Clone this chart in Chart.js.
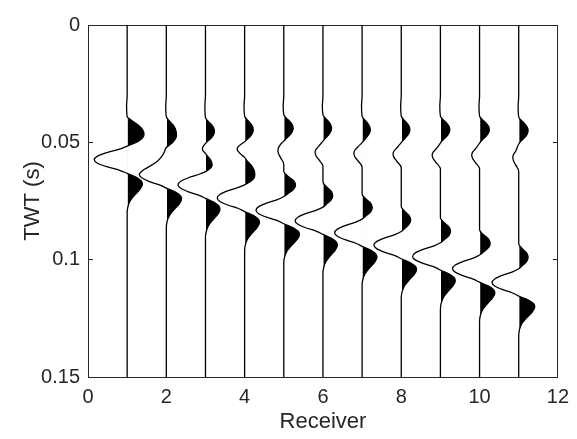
<!DOCTYPE html>
<html>
<head>
<meta charset="utf-8">
<script src="https://cdn.jsdelivr.net/npm/chart.js@4.4.1/dist/chart.umd.min.js"></script>
<style>
  html, body { margin: 0; padding: 0; background: #fff; }
  canvas { display: block; }
</style>
</head>
<body>
<canvas id="wiggle" width="577" height="439"></canvas>
<script>
// receiver positions and the wiggle of each trace as [TWT (s), amplitude] pairs
const receivers = [1, 2, 3, 4, 5, 6, 7, 8, 9, 10, 11];

const trace1 = [[0,0],[0.030,0],[0.0345,-0.015],[0.0390,0],[0.0405,0.10],[0.0425,0.27],[0.0445,0.39],[0.0467,0.43],[0.0482,0.39],[0.0497,0.27],[0.0508,0.12],[0.0516,0],
    [0.0529,-0.193],[0.0544,-0.521],[0.0559,-0.756],[0.0574,-0.84],[0.0589,-0.756],[0.0604,-0.521],[0.0619,-0.193],[0.0632,0],
    [0.0649,0.234],[0.0664,0.359],[0.0679,0.39],[0.0699,0.332],[0.0724,0.195],[0.0749,0.078],[0.0774,0.02],[0.0799,0],[0.15,0]];
const trace2 = [[0,0],[0.030,0],[0.0345,-0.015],[0.0390,0],[0.0410,0.08],[0.0430,0.19],[0.0450,0.245],[0.0471,0.26],[0.0486,0.23],[0.0501,0.16],[0.0513,0.07],[0.0522,0],
    [0.0545,-0.06],[0.0565,-0.14],[0.0585,-0.26],[0.0600,-0.40],[0.0615,-0.56],[0.0627,-0.65],[0.0637,-0.69],[0.0652,-0.62],[0.0667,-0.43],[0.0682,-0.16],[0.0695,0],
    [0.0712,0.234],[0.0727,0.359],[0.0742,0.39],[0.0762,0.332],[0.0787,0.195],[0.0812,0.078],[0.0837,0.02],[0.0862,0],[0.15,0]];
const trace3 = [[0,0],[0.030,0],[0.0345,-0.015],[0.0395,0],[0.0408,0.053],[0.0423,0.143],[0.0438,0.207],[0.0453,0.23],[0.0468,0.207],[0.0483,0.143],[0.0496,0.05],[0.0505,0],
    [0.0515,-0.05],[0.0527,-0.08],[0.0539,-0.05],[0.0548,0],[0.0560,0.06],[0.0575,0.13],[0.0595,0.17],[0.0608,0.14],[0.0618,0.07],[0.0625,0],
    [0.0636,-0.161],[0.0651,-0.434],[0.0666,-0.63],[0.0681,-0.70],[0.0696,-0.63],[0.0711,-0.434],[0.0726,-0.161],[0.0739,0],
    [0.0756,0.222],[0.0771,0.34],[0.0786,0.37],[0.0806,0.315],[0.0831,0.185],[0.0856,0.074],[0.0881,0.019],[0.0906,0],[0.15,0]];
const trace4 = [[0,0],[0.030,0],[0.0345,-0.015],[0.0388,0],[0.0401,0.051],[0.0416,0.136],[0.0431,0.198],[0.0446,0.22],[0.0461,0.198],[0.0476,0.136],[0.0489,0.05],[0.0498,0],
    [0.0508,-0.09],[0.0518,-0.165],[0.0529,-0.19],[0.0540,-0.16],[0.0553,-0.08],[0.0564,0],
    [0.0580,0.07],[0.0600,0.18],[0.0620,0.245],[0.0640,0.26],[0.0655,0.23],[0.0668,0.14],[0.0681,0],
    [0.0692,-0.161],[0.0707,-0.434],[0.0722,-0.63],[0.0737,-0.70],[0.0752,-0.63],[0.0767,-0.434],[0.0782,-0.161],[0.0795,0],
    [0.0812,0.228],[0.0827,0.35],[0.0842,0.38],[0.0862,0.323],[0.0887,0.19],[0.0912,0.076],[0.0937,0.019],[0.0962,0],[0.15,0]];
const trace5 = [[0,0],[0.030,0],[0.0345,-0.015],[0.0382,0],[0.0395,0.055],[0.0410,0.149],[0.0425,0.216],[0.0440,0.24],[0.0455,0.216],[0.0470,0.149],[0.0485,0.055],[0.0495,0],
    [0.0507,-0.075],[0.0523,-0.135],[0.0535,-0.15],[0.0548,-0.135],[0.0565,-0.083],[0.0593,0],
    [0.0624,0],[0.0644,0.105],[0.0664,0.255],[0.0682,0.30],[0.0699,0.255],[0.0717,0.12],[0.0731,0],
    [0.0744,-0.163],[0.0759,-0.44],[0.0774,-0.639],[0.0789,-0.71],[0.0804,-0.639],[0.0819,-0.44],[0.0834,-0.163],[0.0847,0],
    [0.0864,0.24],[0.0879,0.368],[0.0894,0.40],[0.0914,0.34],[0.0939,0.20],[0.0964,0.08],[0.0989,0.02],[0.1014,0],[0.15,0]];
const trace6 = [[0,0],[0.030,0],[0.0345,-0.015],[0.0382,0],[0.0395,0.051],[0.0410,0.136],[0.0425,0.198],[0.0440,0.22],[0.0455,0.198],[0.0470,0.136],[0.0485,0.051],[0.0495,0],
    [0.0515,-0.10],[0.0531,-0.18],[0.0543,-0.20],[0.0556,-0.18],[0.0573,-0.11],[0.0601,0],
    [0.0669,0],[0.0689,0.088],[0.0709,0.213],[0.0727,0.25],[0.0744,0.213],[0.0762,0.10],[0.0776,0],
    [0.0789,-0.163],[0.0804,-0.44],[0.0819,-0.639],[0.0834,-0.71],[0.0849,-0.639],[0.0864,-0.44],[0.0879,-0.163],[0.0892,0],
    [0.0909,0.222],[0.0924,0.34],[0.0939,0.37],[0.0959,0.315],[0.0984,0.185],[0.1009,0.074],[0.1034,0.019],[0.1059,0],[0.15,0]];
const trace7 = [[0,0],[0.030,0],[0.0345,-0.015],[0.0388,0],[0.0401,0.048],[0.0416,0.130],[0.0431,0.189],[0.0446,0.21],[0.0461,0.189],[0.0476,0.130],[0.0491,0.048],[0.0501,0],
    [0.0519,-0.105],[0.0535,-0.189],[0.0547,-0.21],[0.0560,-0.189],[0.0577,-0.116],[0.0605,0],
    [0.0720,0],[0.0740,0.091],[0.0760,0.221],[0.0778,0.26],[0.0795,0.221],[0.0813,0.104],[0.0827,0],
    [0.0840,-0.161],[0.0855,-0.434],[0.0870,-0.63],[0.0885,-0.70],[0.0900,-0.63],[0.0915,-0.434],[0.0930,-0.161],[0.0943,0],
    [0.0960,0.228],[0.0975,0.35],[0.0990,0.38],[0.1010,0.323],[0.1035,0.19],[0.1060,0.076],[0.1085,0.019],[0.1110,0],[0.15,0]];
const trace8 = [[0,0],[0.030,0],[0.0345,-0.015],[0.0388,0],[0.0401,0.051],[0.0416,0.136],[0.0431,0.198],[0.0446,0.22],[0.0461,0.198],[0.0476,0.136],[0.0491,0.051],[0.0501,0],
    [0.0522,-0.105],[0.0538,-0.189],[0.0550,-0.21],[0.0563,-0.189],[0.0580,-0.116],[0.0608,0],
    [0.0773,0],[0.0793,0.084],[0.0813,0.204],[0.0831,0.24],[0.0848,0.204],[0.0866,0.096],[0.0880,0],
    [0.0893,-0.161],[0.0908,-0.434],[0.0923,-0.63],[0.0938,-0.70],[0.0953,-0.63],[0.0968,-0.434],[0.0983,-0.161],[0.0996,0],
    [0.1013,0.234],[0.1028,0.359],[0.1043,0.39],[0.1063,0.332],[0.1088,0.195],[0.1113,0.078],[0.1138,0.02],[0.1163,0],[0.15,0]];
const trace9 = [[0,0],[0.030,0],[0.0345,-0.015],[0.0388,0],[0.0401,0.055],[0.0416,0.149],[0.0431,0.216],[0.0446,0.24],[0.0461,0.216],[0.0476,0.149],[0.0491,0.055],[0.0503,0],
    [0.0527,-0.105],[0.0543,-0.189],[0.0555,-0.21],[0.0568,-0.189],[0.0585,-0.116],[0.0613,0],
    [0.0821,0],[0.0841,0.091],[0.0861,0.221],[0.0879,0.26],[0.0896,0.221],[0.0914,0.104],[0.0928,0],
    [0.0941,-0.163],[0.0956,-0.44],[0.0971,-0.639],[0.0986,-0.71],[0.1001,-0.639],[0.1016,-0.44],[0.1031,-0.163],[0.1044,0],
    [0.1061,0.228],[0.1076,0.35],[0.1091,0.38],[0.1111,0.323],[0.1136,0.19],[0.1161,0.076],[0.1186,0.019],[0.1211,0],[0.15,0]];
const trace10 = [[0,0],[0.030,0],[0.0345,-0.015],[0.0388,0],[0.0401,0.058],[0.0416,0.155],[0.0431,0.225],[0.0446,0.25],[0.0461,0.225],[0.0476,0.155],[0.0491,0.058],[0.0503,0],
    [0.0527,-0.10],[0.0543,-0.18],[0.0555,-0.20],[0.0568,-0.18],[0.0585,-0.11],[0.0613,0],
    [0.0873,0],[0.0893,0.095],[0.0913,0.23],[0.0931,0.27],[0.0948,0.23],[0.0966,0.108],[0.0980,0],
    [0.0993,-0.159],[0.1008,-0.428],[0.1023,-0.621],[0.1038,-0.69],[0.1053,-0.621],[0.1068,-0.428],[0.1083,-0.159],[0.1096,0],
    [0.1113,0.234],[0.1128,0.359],[0.1143,0.39],[0.1163,0.332],[0.1188,0.195],[0.1213,0.078],[0.1238,0.02],[0.1263,0],[0.15,0]];
const trace11 = [[0,0],[0.030,0],[0.0345,-0.015],[0.0392,0],[0.0405,0.055],[0.0420,0.149],[0.0435,0.216],[0.0450,0.24],[0.0465,0.216],[0.0480,0.149],[0.0495,0.055],[0.0507,0],
    [0.0537,-0.075],[0.0553,-0.135],[0.0565,-0.15],[0.0578,-0.135],[0.0595,-0.083],[0.0623,0],
    [0.0932,0],[0.0952,0.084],[0.0972,0.204],[0.0990,0.24],[0.1007,0.204],[0.1025,0.096],[0.1039,0],
    [0.1052,-0.156],[0.1067,-0.422],[0.1082,-0.612],[0.1097,-0.68],[0.1112,-0.612],[0.1127,-0.422],[0.1142,-0.156],[0.1155,0],
    [0.1172,0.246],[0.1187,0.377],[0.1202,0.41],[0.1222,0.349],[0.1247,0.205],[0.1272,0.082],[0.1297,0.021],[0.1322,0],[0.15,0]];

const traces = [trace1, trace2, trace3, trace4, trace5, trace6, trace7, trace8, trace9, trace10, trace11];

const receiverTicks = [0, 2, 4, 6, 8, 10, 12];
const receiverTickLabels = ['0', '2', '4', '6', '8', '10', '12'];
const timeTicks = [0, 0.05, 0.1, 0.15];
const timeTickLabels = ['0', '0.05', '0.1', '0.15'];

const axisColor = '#262626';
const tickFont = { family: '"Liberation Sans", Arial, Helvetica, sans-serif', size: 20 };
const titleFont = { family: '"Liberation Sans", Arial, Helvetica, sans-serif', size: 22 };
const traceWidth = 1.3;

// only keep the fill on the positive (right) side of each trace's baseline
const rightSideClip = {
    id: 'rightSideClip',
    beforeDatasetDraw(chart, args) {
        const ds = chart.data.datasets[args.index];
        if (ds.wiggleBase === undefined) return;
        const area = chart.chartArea;
        const x0 = chart.scales.x.getPixelForValue(ds.wiggleBase) + traceWidth / 2;
        chart.ctx.save();
        chart.ctx.beginPath();
        chart.ctx.rect(x0, area.top, area.right - x0, area.bottom - area.top);
        chart.ctx.clip();
    },
    afterDatasetDraw(chart, args) {
        const ds = chart.data.datasets[args.index];
        if (ds.wiggleBase === undefined) return;
        chart.ctx.restore();
    }
};
// filler has to run inside the clip, so register it after the clip plugin
Chart.unregister(Chart.Filler);
Chart.register(rightSideClip, Chart.Filler);

const toPoints = (rec, trace) => trace.map(([t, a]) => ({ x: rec + a, y: t }));

const lineSets = receivers.map((rec, i) => ({
    data: toPoints(rec, traces[i]),
    borderColor: '#000',
    borderWidth: traceWidth,
    pointRadius: 0,
    fill: false,
    cubicInterpolationMode: 'monotone',
    order: 0
}));

const fillSets = receivers.map((rec, i) => ({
    data: toPoints(rec, traces[i]),
    borderWidth: 0,
    backgroundColor: '#000',
    pointRadius: 0,
    fill: { value: rec },
    cubicInterpolationMode: 'monotone',
    wiggleBase: rec,
    order: 1
}));

new Chart(document.getElementById('wiggle'), {
    type: 'line',
    data: { datasets: [...lineSets, ...fillSets] },
    options: {
        responsive: false,
        animation: false,
        events: [],
        indexAxis: 'y',
        layout: { padding: { top: 16, right: 19, bottom: 0, left: 0 } },
        plugins: { legend: { display: false }, tooltip: { enabled: false } },
        scales: {
            x: {
                type: 'linear', position: 'bottom', min: 0, max: 12,
                afterBuildTicks: s => { s.ticks = receiverTicks.map(v => ({ value: v })); },
                ticks: { callback: (v, i) => receiverTickLabels[i], font: tickFont, color: axisColor, padding: 8, maxRotation: 0, autoSkip: false },
                grid: { drawOnChartArea: false, drawTicks: false },
                border: { color: axisColor, width: 1 },
                title: { display: true, text: 'Receiver', font: titleFont, color: axisColor, padding: { top: 0, bottom: 4 } },
                afterFit: s => { s.height = 62; }
            },
            x2: {
                type: 'linear', position: 'top', min: 0, max: 12,
                ticks: { display: false },
                grid: { drawOnChartArea: false, drawTicks: false },
                border: { color: axisColor, width: 1 },
                afterFit: s => { s.height = 0; }
            },
            y: {
                type: 'linear', position: 'left', reverse: true, min: 0, max: 0.15,
                afterBuildTicks: s => { s.ticks = timeTicks.map(v => ({ value: v })); },
                ticks: { callback: (v, i) => timeTickLabels[i], font: tickFont, color: axisColor, padding: 13, autoSkip: false },
                grid: { drawOnChartArea: false, drawTicks: true, tickLength: -5, color: axisColor },
                border: { color: axisColor, width: 1 },
                title: { display: true, text: 'TWT (s)', font: titleFont, color: axisColor, padding: { top: 20, bottom: 0 } },
                afterFit: s => { s.width = 88; }
            },
            y2: {
                type: 'linear', position: 'right', reverse: true, min: 0, max: 0.15,
                afterBuildTicks: s => { s.ticks = timeTicks.map(v => ({ value: v })); },
                ticks: { display: false },
                grid: { drawOnChartArea: false, drawTicks: true, tickLength: -5, color: axisColor },
                border: { color: axisColor, width: 1 },
                afterFit: s => { s.width = 0; }
            }
        }
    }
});
</script>
</body>
</html>
